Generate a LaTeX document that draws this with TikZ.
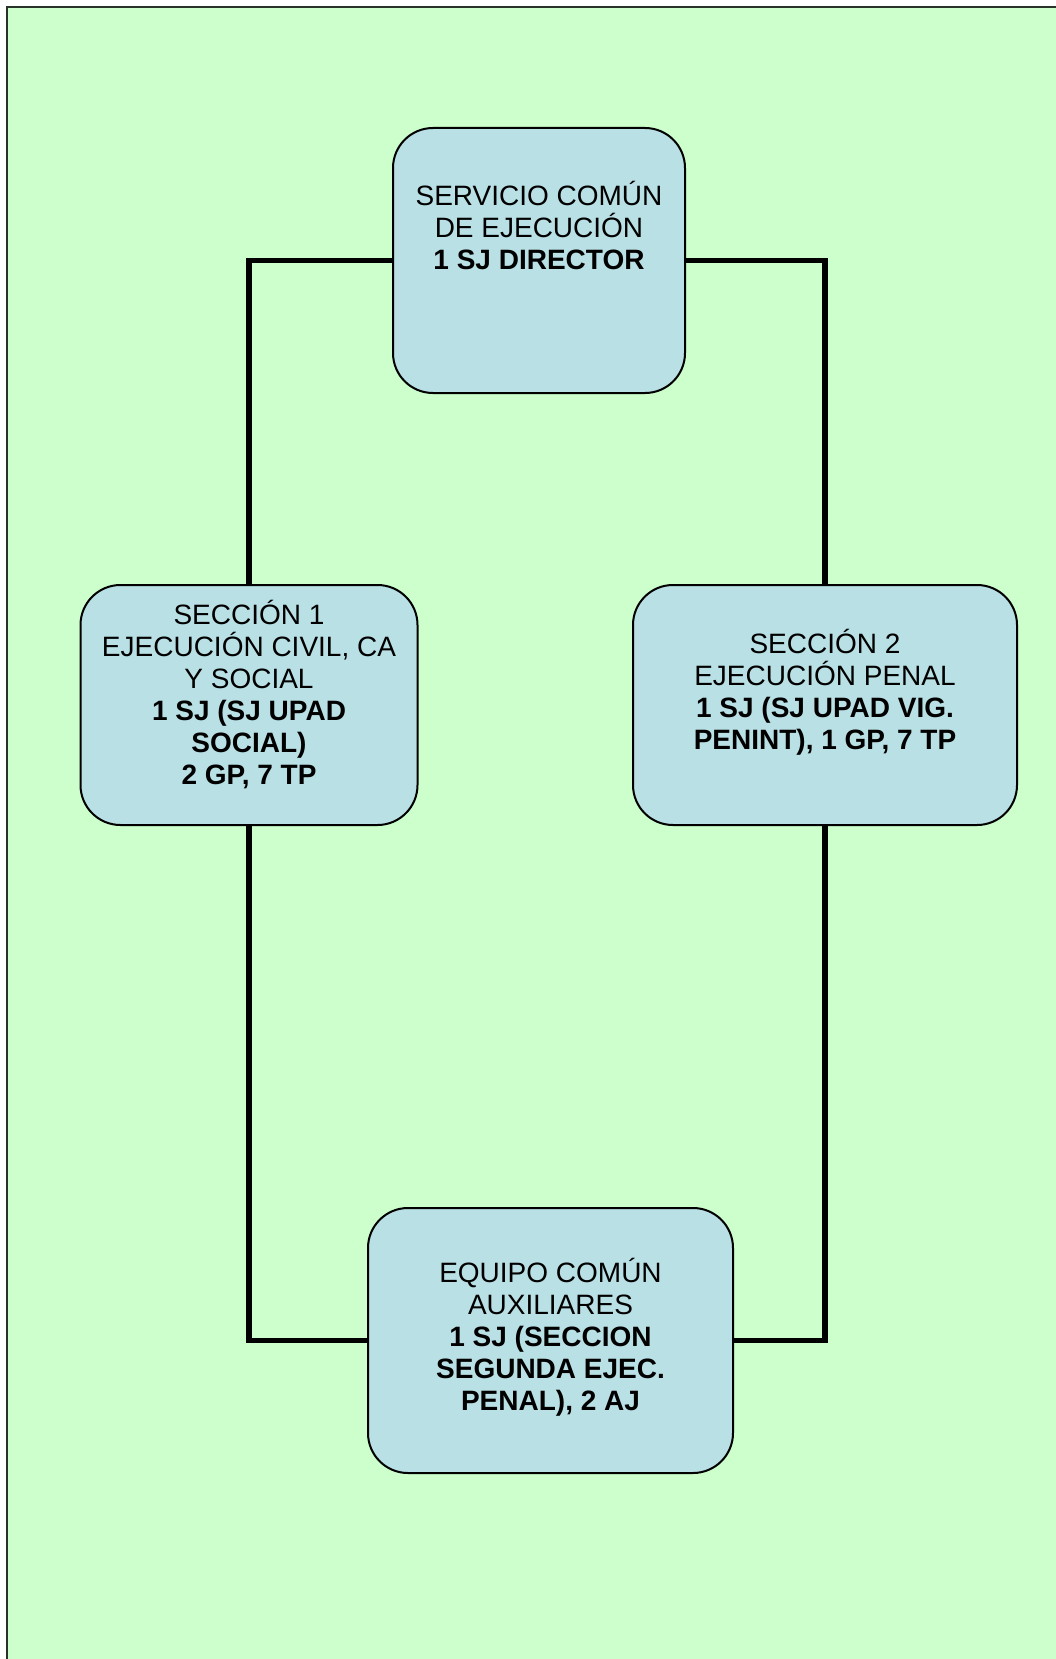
\documentclass[tikz,border=0pt]{standalone}
\usepackage{fontspec}
\setmainfont{Liberation Sans}
\usepackage{xcolor}
\definecolor{pagegreen}{RGB}{204,255,204}
\definecolor{boxblue}{RGB}{185,224,229}
\usetikzlibrary{calc}

\tikzset{
  unitbox/.style={draw=black, line width=2pt, fill=boxblue, rounded corners=40pt, inner sep=0pt},
  unittext/.style={align=center, inner sep=0pt, font=\fontsize{28}{32}\selectfont},
  link/.style={black, line width=5.5pt, line join=miter}
}

\begin{document}
\begin{tikzpicture}[x=1pt, y=-1pt]
  \useasboundingbox (0,0) rectangle (1056,1659);
  \fill[white] (0,0) rectangle (1056,1659);
  \draw[pagegreen!20!black, line width=2pt, fill=pagegreen] (7,7) rectangle (1070,1675);

  % boxes
  \node[unitbox, minimum width=292pt, minimum height=265pt] (dir) at (539,260.5) {};
  \node[unitbox, minimum width=337pt, minimum height=240pt] (sec1) at (249,705) {};
  \node[unitbox, minimum width=384pt, minimum height=240pt] (sec2) at (825,705) {};
  \node[unitbox, minimum width=365pt, minimum height=265pt] (equipo) at (550.5,1340.5) {};

  % texts
  \node[unittext] (dirtxt) at ([yshift=35pt]dir.center) {SERVICIO COMÚN\\DE EJECUCIÓN\\\textbf{1 SJ DIRECTOR}};
  \node[unittext] (sec1txt) at ([yshift=10pt]sec1.center) {SECCIÓN 1\\EJECUCIÓN CIVIL, CA\\Y SOCIAL\\\textbf{1 SJ (SJ UPAD}\\\textbf{SOCIAL)}\\\textbf{2 GP, 7 TP}};
  \node[unittext] (sec2txt) at ([yshift=12.5pt]sec2.center) {SECCIÓN 2\\EJECUCIÓN PENAL\\\textbf{1 SJ (SJ UPAD VIG.}\\\textbf{PENINT), 1 GP, 7 TP}};
  \node[unittext] (equipotxt) at ([yshift=3.5pt]equipo.center) {EQUIPO COMÚN\\AUXILIARES\\\textbf{1 SJ (SECCION}\\\textbf{SEGUNDA EJEC.}\\\textbf{PENAL), 2 AJ}};

  % connectors
  \draw[link] (dir.west) -| (sec1.north);
  \draw[link] (dir.east) -| (sec2.north);
  \draw[link] (sec1.south) |- (equipo.west);
  \draw[link] (sec2.south) |- (equipo.east);
\end{tikzpicture}
\end{document}
